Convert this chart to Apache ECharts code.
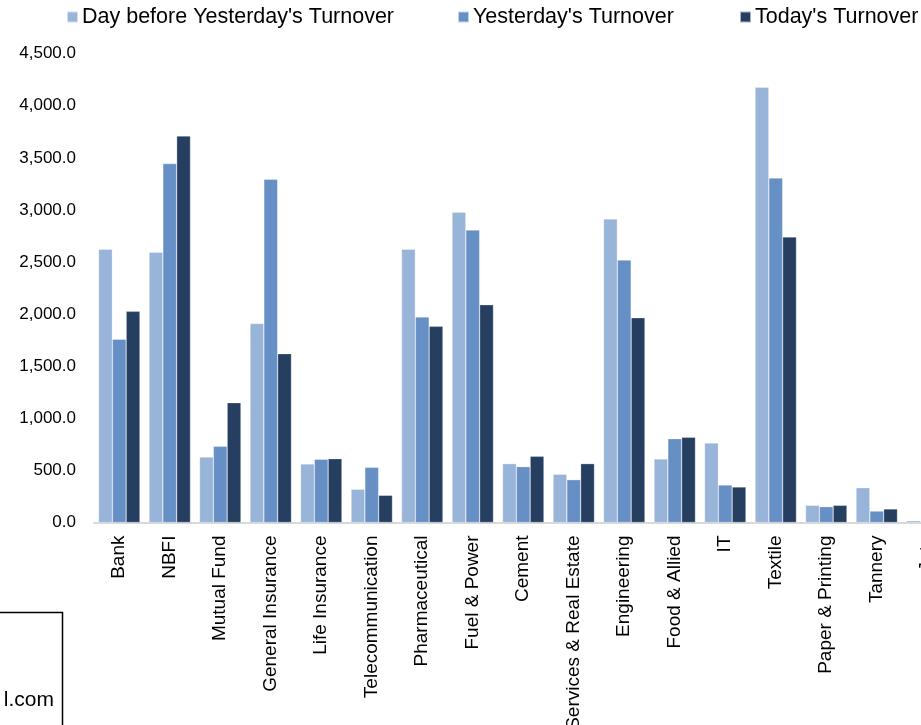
<!DOCTYPE html>
<html>
<head>
<meta charset="utf-8">
<script src="https://cdn.jsdelivr.net/npm/echarts@6/dist/echarts.min.js"></script>
<style>html,body{margin:0;padding:0;background:#fff;overflow:hidden;width:921px;height:725px;}#c{width:960px;height:725px;}</style>
</head>
<body>
<div id="c"></div>
<script>
const categories = ["Bank","NBFI","Mutual Fund","General Insurance","Life Insurance","Telecommunication","Pharmaceutical","Fuel & Power","Cement","Services & Real Estate","Engineering","Food & Allied","IT","Textile","Paper & Printing","Tannery","Jute"];
const dayBefore = [2623,2594,629,1909,562,319,2623,2978,565,463,2914,610,763,4178,165,334,17];
const yesterday = [1759,3445,731,3294,607,530,1973,2808,536,411,2520,805,360,3307,152,110,10];
const today = [2027,3710,1150,1621,613,261,1883,2091,635,565,1966,818,341,2741,165,130,10];
const seriesNames = ["Day before Yesterday's Turnover","Yesterday's Turnover","Today's Turnover"];
const yTicks = {min:0, max:4500, interval:500};

const colors = ['#98B4D9','#6690C5','#263F61'];
const font = '"Liberation Sans", Arial, sans-serif';
const chart = echarts.init(document.getElementById('c'));
const legendLefts = [66, 457, 739];
const mk = (name, data, i) => ({
  name, type:'bar', data, barGap:'0%', barCategoryGap:'18%',
  itemStyle:{color:colors[i], borderColor:'rgba(255,255,255,0.6)', borderWidth:0.5},
  animation:false
});
chart.setOption({
  animation:false,
  textStyle:{fontFamily:font},
  legend: seriesNames.map((n,i)=>({
    data:[n], left:legendLefts[i], top:6, padding:0, itemWidth:11, itemHeight:11, itemGap:4,
    icon:'rect', textStyle:{fontSize:21.5, color:'#000', fontFamily:font, padding:[0,0,0,-1]}
  })),
  grid:{left:94, top:53.7, width:858.5, height:468.8, containLabel:false, outerBoundsMode:'none'},
  xAxis:{
    type:'category', data:categories,
    axisLine:{lineStyle:{color:'#d9d9d9', width:2}},
    axisTick:{show:false},
    axisLabel:{rotate:90, interval:0, fontSize:19, color:'#000', margin:13, fontFamily:font}
  },
  yAxis:{
    type:'value', min:yTicks.min, max:yTicks.max, interval:yTicks.interval,
    splitLine:{show:false}, axisLine:{show:false}, axisTick:{show:false},
    axisLabel:{fontSize:17, color:'#000', margin:18, fontFamily:font,
      formatter:v=>v.toLocaleString('en-US',{minimumFractionDigits:1, maximumFractionDigits:1})}
  },
  series:[mk(seriesNames[0],dayBefore,0), mk(seriesNames[1],yesterday,1), mk(seriesNames[2],today,2)],
  graphic:[
    {type:'rect', shape:{x:-100, y:612.5, width:162.5, height:200}, style:{fill:'#fff', stroke:'#000', lineWidth:1.5}, z:100},
    {type:'text', x:54, y:711, style:{text:'l.com', fontSize:21, fill:'#000', align:'right', verticalAlign:'bottom', fontFamily:font}, z:101}
  ]
});
</script>
</body>
</html>
